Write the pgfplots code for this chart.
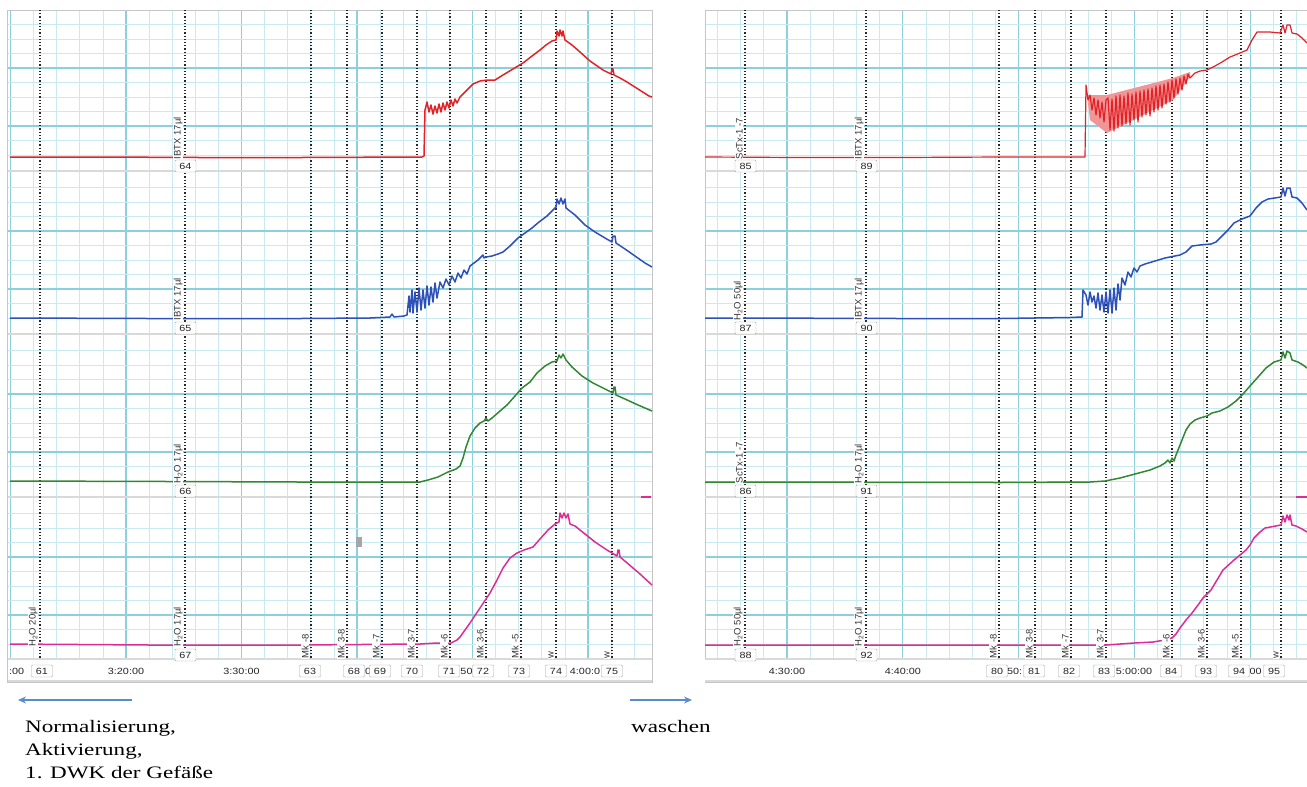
\documentclass[border=0pt]{standalone}
\usepackage{pgfplots}
\pgfplotsset{compat=1.18}
\usepackage{fontspec}
\setmainfont{Liberation Serif}
\newfontfamily\lab{Liberation Sans}
\newfontfamily\labw[FakeStretch=1.2]{Liberation Sans}
\newfontfamily\anno[FakeStretch=1.32]{Liberation Serif}
\usetikzlibrary{arrows.meta}
\definecolor{gmaj}{RGB}{140,208,222}
\definecolor{gmin}{RGB}{200,234,240}
\definecolor{cred}{RGB}{225,35,40}
\definecolor{lred}{RGB}{240,150,150}
\definecolor{cblue}{RGB}{45,80,185}
\definecolor{cgreen}{RGB}{50,135,50}
\definecolor{cpink}{RGB}{220,45,150}
\definecolor{arr}{RGB}{90,140,205}
\pgfplotsset{
 panel/.style={
  scale only axis, y dir=reverse, ymin=10, ymax=682, height=672pt,
  clip=false, no markers,
  axis line style={draw=gray!45, line width=1pt},
  xticklabels={}, yticklabels={},
  major tick length=0pt, minor tick length=0pt,
  grid=both,
  major grid style={draw=gmaj, line width=1.2pt},
  minor grid style={draw=gmin, line width=0.8pt},
  ytick={68,126,231,289,394,452,557,615},
  minor ytick={24.5,39,53.5,82.5,97,111.5,140.5,155,187.5,202,216.5,245.5,260,274.5,303.5,318,350.5,365,379.5,408.5,423,437.5,466.5,481,513.5,528,542.5,571.5,586,600.5,629.5,644},
 },
 ev/.style={black!85, line width=1.1pt, dash pattern=on 1.1pt off 2.1pt},
 tr/.style={line width=1.5pt, line join=round},
}
\tikzset{
 rl/.style={rotate=90, anchor=south west, font=\lab\fontsize{9.5}{10}\selectfont, text=black!80, inner sep=0.6pt, fill=white},
 bx/.style={draw=gray!70, fill=white, rounded corners=1pt, font=\labw\fontsize{9}{10}\selectfont, text=black!85, minimum width=21pt, minimum height=12pt, inner sep=0.8pt},
 tl/.style={font=\labw\fontsize{9}{10}\selectfont, text=black!85, inner sep=0pt},
 sep/.style={draw=gray!30, line width=2.5pt},
 an/.style={anchor=base west, font=\anno\fontsize{17.5}{20}\selectfont, inner sep=0pt},
}
\begin{document}
\begin{tikzpicture}
\path[use as bounding box] (0,0) rectangle (1307pt,-787pt);
% ================= LEFT PANEL =================
\begin{axis}[panel, at={(8pt,-10pt)}, anchor=north west,
  xmin=8, xmax=652, width=644pt,
  xtick={10.5,126,241.5,357,472.5,588},
  minor xtick={10.5,33.6,...,652}]
\fill[white] (axis cs:8,659) rectangle (axis cs:652,682);
\draw[sep] (axis cs:8,171) -- (axis cs:652,171);
\draw[sep] (axis cs:8,334) -- (axis cs:652,334);
\draw[sep] (axis cs:8,497) -- (axis cs:652,497);
\draw[sep] (axis cs:8,659) -- (axis cs:652,659);
\draw[sep] (axis cs:8,681) -- (axis cs:652,681);
\pgfplotsinvokeforeach{40,185,311,347,382,417,450,486,521,556,612}{
  \addplot[ev] coordinates {(#1,10) (#1,659)};
}
% red
\addplot[tr, cred] coordinates {(10,157) (100,157) (200,157.5) (300,157.5) (422,157) (424,156) (425,110) (427,102) (429,112) (431,105) (433,114) (435,106) (437,113) (439,104) (441,112) (443,103) (445,110) (447,102) (449,108) (451,100) (453,106) (455,99) (457,103) (460,97) (467,90) (473,84) (480,81) (487,80) (495,80) (503,75) (513,69) (523,63) (532,56) (540,50) (546,45) (552,41) (556,40) (557,31) (559,36) (560,30) (562,36) (563,31) (565,40) (572,45) (580,52) (590,61) (603,70) (611,74) (612,69) (613,69) (614,75) (620,78) (627,82) (638,89) (649,96) (652,97)};
% blue
\addplot[tr, cblue] coordinates {(10,318) (150,318.5) (300,318.5) (370,318) (390,317) (392,314) (394,317) (404,316) (407,315) (409,296) (410,312) (412,290) (413,313) (415,292) (417,312) (419,288) (421,310) (423,290) (425,308) (427,286) (429,305) (431,287) (433,302) (435,283) (437,298) (440,282) (443,288) (446,279) (449,285) (452,276) (455,282) (458,273) (461,278) (464,270) (467,274) (470,266) (474,263) (478,260) (481,257) (483,255) (484,258) (486,257) (492,256) (498,254) (503,252) (510,246) (518,238) (525,233) (532,228) (539,222) (547,216) (553,210) (556,207) (557,199) (559,204) (561,198) (563,204) (565,199) (566,208) (575,215) (585,225) (595,232) (605,238) (612,242) (613,236) (615,236) (616,243) (625,249) (635,256) (645,263) (652,267)};
% green
\addplot[tr, cgreen] coordinates {(10,481) (170,481.5) (300,482) (420,482) (428,480) (438,477) (448,472) (456,469) (460,466) (463,458) (466,447) (470,436) (475,428) (480,423) (484,421) (486,418) (488,421) (492,418) (500,411) (507,405) (515,396) (522,388) (530,382) (537,373) (545,366) (552,362) (557,361) (559,355) (561,358) (563,354) (565,358) (566,360) (572,367) (582,376) (593,383) (605,389) (613,393) (614,387) (615,387) (616,395) (625,399) (638,405) (652,411)};
% pink
\addplot[tr, cpink] coordinates {(10,644) (150,645) (300,645) (420,644) (437,643) (446,643) (450,643.5) (453,642) (457,640) (460,637) (465,630) (470,623) (480,608) (490,593) (497,580) (503,568) (510,558) (517,553) (524,550) (533,547) (540,539) (548,530) (555,524) (559,522) (560,513) (562,518) (564,513) (566,518) (568,514) (570,524) (575,526) (585,534) (595,542) (607,550) (617,556) (618,550) (619,550) (620,557) (626,562) (640,574) (652,585)};
\addplot[cpink, line width=2pt] coordinates {(641,497) (651,497)};
\fill[gray!70] (axis cs:356,537) rectangle (axis cs:362,547);
% labels
\node[rl] at (axis cs:183.5,160) {IBTX 17µl};
\node[rl] at (axis cs:183.5,321) {IBTX 17µl};
\node[rl] at (axis cs:183.5,484) {H\textsubscript{2}O 17µl};
\node[rl] at (axis cs:38.5,647) {H\textsubscript{2}O 20µl};
\node[rl] at (axis cs:183.5,647) {H\textsubscript{2}O 17µl};
\node[rl] at (axis cs:309.5,659) {Mk -8};
\node[rl] at (axis cs:345.5,659) {Mk 3-8};
\node[rl] at (axis cs:380.5,659) {Mk -7};
\node[rl] at (axis cs:415.5,659) {Mk 3-7};
\node[rl] at (axis cs:448.5,659) {Mk -6};
\node[rl] at (axis cs:484.5,659) {Mk 3-6};
\node[rl] at (axis cs:519.5,659) {Mk -5};
\node[rl] at (axis cs:554.5,659) {w};
\node[rl] at (axis cs:610.5,659) {w};
\node[bx] at (axis cs:185.5,166) {64};
\node[bx] at (axis cs:185.5,328) {65};
\node[bx] at (axis cs:185.5,491) {66};
\node[bx] at (axis cs:185.5,655) {67};
% time row
\node[tl, anchor=west] at (axis cs:9,671) {:00};
\node[tl] at (axis cs:126,671) {3:20:00};
\node[tl] at (axis cs:241.5,671) {3:30:00};
\node[tl] at (axis cs:366.5,671) {:0};
\node[tl] at (axis cs:466.5,671) {50};
\node[tl] at (axis cs:585,671) {4:00:0};
\node[bx] at (axis cs:42,671) {61};
\node[bx] at (axis cs:310,671) {63};
\node[bx] at (axis cs:354,671) {68};
\node[bx] at (axis cs:380,671) {69};
\node[bx] at (axis cs:412,671) {70};
\node[bx] at (axis cs:449,671) {71};
\node[bx] at (axis cs:483,671) {72};
\node[bx] at (axis cs:519,671) {73};
\node[bx] at (axis cs:556,671) {74};
\node[bx] at (axis cs:612,671) {75};
\end{axis}
% ================= RIGHT PANEL =================
\begin{axis}[panel, at={(705pt,-10pt)}, anchor=north west,
  xmin=705, xmax=1307, width=602pt,
  xtick={787,902.8,...,1307},
  minor xtick={717.52,740.68,...,1307}]
\fill[white] (axis cs:705,659) rectangle (axis cs:1307,682);
\draw[sep] (axis cs:705,171) -- (axis cs:1307,171);
\draw[sep] (axis cs:705,334) -- (axis cs:1307,334);
\draw[sep] (axis cs:705,497) -- (axis cs:1307,497);
\draw[sep] (axis cs:705,659) -- (axis cs:1307,659);
\draw[sep] (axis cs:705,681) -- (axis cs:1307,681);
\pgfplotsinvokeforeach{745,866,999,1035,1071,1106,1172,1207,1241,1281}{
  \addplot[ev] coordinates {(#1,10) (#1,659)};
}
% red band
\addplot[fill=lred, draw=none] coordinates {(1087,95) (1107,95) (1173,78) (1190,72) (1190,77) (1173,100) (1107,133) (1090,120)} -- cycle;
\addplot[tr, cred, line width=1.2pt] coordinates {(705,157) (800,157.5) (900,157.5) (1000,157) (1085,157) (1086,85) (1088,100) (1090,95) (1092,110) (1094,98) (1096,115) (1098,100) (1100,118) (1102,102) (1104,122) (1106,100) (1108,98) (1110,130) (1112,99) (1114,131) (1116,96) (1118,128) (1120,95) (1122,126) (1124,96) (1126,124) (1128,93) (1130,125) (1132,94) (1134,120) (1136,92) (1138,122) (1140,91) (1142,117) (1144,90) (1146,115) (1148,89) (1150,116) (1152,88) (1154,112) (1156,86) (1158,110) (1160,85) (1162,108) (1164,84) (1166,104) (1168,82) (1170,102) (1172,80) (1174,98) (1176,79) (1178,94) (1180,78) (1182,90) (1184,76) (1186,84) (1188,74) (1190,78) (1195,73) (1200,71) (1207,70) (1215,66) (1222,62) (1230,57) (1240,53) (1247,50) (1252,40) (1257,32) (1270,32) (1280,33) (1283,25) (1285,33) (1287,25) (1290,25) (1292,33) (1297,34) (1302,38) (1307,43)};
% blue
\addplot[tr, cblue] coordinates {(705,318) (728,318) (735,318) (900,318.5) (1000,318.5) (1070,317.5) (1082,317) (1083,290) (1086,295) (1088,305) (1090,292) (1092,302) (1094,296) (1096,308) (1098,293) (1100,310) (1102,295) (1104,312) (1106,292) (1108,313) (1110,290) (1112,313) (1114,288) (1116,310) (1118,284) (1120,300) (1122,278) (1125,285) (1128,272) (1131,277) (1134,268) (1137,272) (1140,266) (1145,264) (1155,261) (1165,258) (1180,255) (1186,252) (1192,246) (1200,245) (1211,244) (1216,242) (1222,236) (1228,230) (1234,223) (1242,219) (1250,216) (1256,208) (1262,202) (1268,199) (1281,197) (1283,188) (1285,196) (1287,188) (1290,188) (1292,197) (1297,198) (1302,203) (1307,210)};
% green
\addplot[tr, cgreen] coordinates {(705,482) (740,482) (1000,482.5) (1090,482) (1105,481) (1120,478) (1135,474) (1150,470) (1160,466) (1165,463) (1168,460) (1170,463) (1172,458) (1174,461) (1176,455) (1178,450) (1182,440) (1186,430) (1190,424) (1195,420) (1200,418) (1207,416) (1212,413) (1220,411) (1228,407) (1236,401) (1243,394) (1250,386) (1258,377) (1266,368) (1274,362) (1281,360) (1283,352) (1285,358) (1287,351) (1290,353) (1292,360) (1298,362) (1303,365) (1307,368)};
% pink
\addplot[tr, cpink] coordinates {(705,645) (900,645) (1103,645) (1106,645) (1134,643) (1153,642) (1165,640) (1172,638) (1176,634) (1180,628) (1186,620) (1192,613) (1198,605) (1203,598) (1211,590) (1217,580) (1223,570) (1234,560) (1246,550) (1250,545) (1254,538) (1260,532) (1265,528) (1281,525) (1283,516) (1285,522) (1287,515) (1289,520) (1290,515) (1292,525) (1296,526) (1302,529) (1307,532)};
\addplot[cpink, line width=2pt] coordinates {(1296,497) (1307,497)};
% labels
\node[rl] at (axis cs:743.5,160) {ScTx-1 -7};
\node[rl] at (axis cs:864.5,160) {IBTX 17µl};
\node[rl] at (axis cs:743.5,321) {H\textsubscript{2}O 50µl};
\node[rl] at (axis cs:864.5,321) {IBTX 17µl};
\node[rl] at (axis cs:743.5,484) {ScTx-1 -7};
\node[rl] at (axis cs:864.5,484) {H\textsubscript{2}O 17µl};
\node[rl] at (axis cs:743.5,647) {H\textsubscript{2}O 50µl};
\node[rl] at (axis cs:864.5,647) {H\textsubscript{2}O 17µl};
\node[rl] at (axis cs:997.5,659) {Mk -8};
\node[rl] at (axis cs:1033.5,659) {Mk 3-8};
\node[rl] at (axis cs:1069.5,659) {Mk -7};
\node[rl] at (axis cs:1104.5,659) {Mk 3-7};
\node[rl] at (axis cs:1170.5,659) {Mk -6};
\node[rl] at (axis cs:1205.5,659) {Mk 3-6};
\node[rl] at (axis cs:1239.5,659) {Mk -5};
\node[rl] at (axis cs:1279.5,659) {w};
\node[bx] at (axis cs:745.5,166) {85};
\node[bx] at (axis cs:866.5,166) {89};
\node[bx] at (axis cs:745.5,328) {87};
\node[bx] at (axis cs:866.5,328) {90};
\node[bx] at (axis cs:745.5,491) {86};
\node[bx] at (axis cs:866.5,491) {91};
\node[bx] at (axis cs:745.5,655) {88};
\node[bx] at (axis cs:866.5,655) {92};
% time row
\node[tl] at (axis cs:787,671) {4:30:00};
\node[tl] at (axis cs:902.8,671) {4:40:00};
\node[tl] at (axis cs:1014.5,671) {50:};
\node[tl] at (axis cs:1134,671) {5:00:00};
\node[tl] at (axis cs:1254,671) {:00};
\node[bx] at (axis cs:997,671) {80};
\node[bx] at (axis cs:1034,671) {81};
\node[bx] at (axis cs:1069,671) {82};
\node[bx] at (axis cs:1104,671) {83};
\node[bx] at (axis cs:1171,671) {84};
\node[bx] at (axis cs:1206,671) {93};
\node[bx] at (axis cs:1239,671) {94};
\node[bx] at (axis cs:1274,671) {95};
\end{axis}
% ================= annotations =================
\draw[arr, line width=1.6pt, -{Stealth[length=8pt,width=7pt]}] (132pt,-700pt) -- (18pt,-700pt);
\draw[arr, line width=1.6pt, -{Stealth[length=8pt,width=7pt]}] (630pt,-700pt) -- (692pt,-700pt);
\node[an] at (25pt,-732pt) {Normalisierung,};
\node[an] at (25pt,-755pt) {Aktivierung,};
\node[an] at (25pt,-778pt) {1. DWK der Gefäße};
\node[an] at (631pt,-732pt) {waschen};
\end{tikzpicture}
\end{document}
